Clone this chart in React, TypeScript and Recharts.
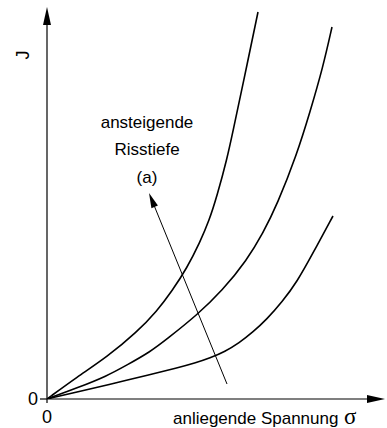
import React from 'react';
import { LineChart, Line, XAxis, YAxis, ReferenceLine, ReferenceDot } from 'recharts';

// sigma (applied stress) and J values, arbitrary units
const curveDeep = [
  { sigma: 0, J: 0 }, { sigma: 30, J: 22 }, { sigma: 60, J: 42 }, { sigma: 90, J: 67 },
  { sigma: 110, J: 88 }, { sigma: 125, J: 108 }, { sigma: 140, J: 131 }, { sigma: 153, J: 157 },
  { sigma: 162, J: 178 }, { sigma: 170, J: 203 }, { sigma: 180, J: 240 }, { sigma: 186, J: 268 },
  { sigma: 196, J: 315 }, { sigma: 211, J: 387 },
];
const curveMedium = [
  { sigma: 0, J: 0 }, { sigma: 30, J: 11 }, { sigma: 60, J: 23 }, { sigma: 80, J: 34 },
  { sigma: 103, J: 47 }, { sigma: 120, J: 60 }, { sigma: 150, J: 84 }, { sigma: 175, J: 108 },
  { sigma: 200, J: 139 }, { sigma: 216, J: 166 }, { sigma: 230, J: 194 }, { sigma: 250, J: 245 },
  { sigma: 263, J: 287 }, { sigma: 276, J: 332 }, { sigma: 285, J: 372 },
];
const curveShallow = [
  { sigma: 0, J: 0 }, { sigma: 30, J: 7 }, { sigma: 60, J: 14 }, { sigma: 103, J: 24.5 },
  { sigma: 130, J: 31 }, { sigma: 148, J: 36 }, { sigma: 163, J: 41 }, { sigma: 178, J: 47.5 },
  { sigma: 192, J: 56 }, { sigma: 206, J: 67 }, { sigma: 220, J: 80 }, { sigma: 235, J: 97 },
  { sigma: 250, J: 117 }, { sigma: 266, J: 146 }, { sigma: 286, J: 183 },
];
const xDomain = [0, 338];
const yDomain = [0, 392];
const xTicks = [0];
const yTicks = [0];
const arrowFrom = { sigma: 180, J: 15 };
const arrowTo = { sigma: 102, J: 206 };
const annotationAnchor = { sigma: 100, J: 243 };
const annotationLines = ['ansteigende', 'Risstiefe', '(a)'];
const xLabel = 'anliegende Spannung';
const xSymbol = 'σ';
const yLabel = 'J';

const FONT = '"Liberation Sans", Arial, Helvetica, sans-serif';

const arrowShape = (len: number, half: number, width: number) => (props: any) => {
  const { x1, y1, x2, y2 } = props;
  if ([x1, y1, x2, y2].some((v) => typeof v !== 'number' || isNaN(v))) return <g />;
  const dx = x2 - x1;
  const dy = y2 - y1;
  const d = Math.hypot(dx, dy) || 1;
  const ux = dx / d;
  const uy = dy / d;
  const bx = x2 - ux * len;
  const by = y2 - uy * len;
  const pts = `${x2},${y2} ${bx - uy * half},${by + ux * half} ${bx + uy * half},${by - ux * half}`;
  return (
    <g>
      <line x1={x1} y1={y1} x2={bx + ux * 2} y2={by + uy * 2} stroke="#000" strokeWidth={width} />
      <polygon points={pts} fill="#000" />
    </g>
  );
};

const annotationShape = (props: any) => {
  const { cx, cy } = props;
  return (
    <text x={cx} y={cy} textAnchor="middle" fontFamily={FONT} fontSize={17} fill="#000">
      {annotationLines.map((t, i) => (
        <tspan key={t} x={cx} y={cy + (i - 1) * 27.5 - 1}>{t}</tspan>
      ))}
    </text>
  );
};

const xLabelContent = (props: any) => {
  const vb = props.viewBox || { x: 47, y: 399 };
  return (
    <g>
      <text x={vb.x + 126} y={vb.y + 25} fontFamily={FONT} fontSize={17} fill="#000">{xLabel}</text>
      <text x={vb.x + 297} y={vb.y + 25} fontFamily='"Liberation Serif", "DejaVu Serif", serif' fontSize={23} fill="#000">{xSymbol}</text>
    </g>
  );
};

const yLabelContent = (props: any) => {
  const vb = props.viewBox || { x: 0, y: 7 };
  const x = vb.x + 29;
  const y = vb.y + 48;
  return (
    <text x={x} y={y} textAnchor="middle" transform={`rotate(-90, ${x}, ${y})`} fontFamily={FONT} fontSize={18} fill="#000">
      {yLabel}
    </text>
  );
};

export default function App() {
  return (
    <div style={{ position: 'absolute', left: 0, top: 0, width: 387, height: 428, background: '#fff' }}>
      <LineChart width={387} height={428} margin={{ top: 7, right: 2, bottom: 0, left: 0 }}>
        <XAxis
          type="number"
          dataKey="sigma"
          domain={xDomain}
          ticks={xTicks}
          allowDataOverflow
          height={29}
          tickSize={4}
          tickMargin={7}
          axisLine={false}
          tickLine={{ stroke: '#000', strokeWidth: 1.2 }}
          tick={{ fill: '#000', fontSize: 18, fontFamily: FONT }}
          label={xLabelContent}
        />
        <YAxis
          type="number"
          dataKey="J"
          domain={yDomain}
          ticks={yTicks}
          allowDataOverflow
          width={47}
          tickSize={7}
          tickMargin={2}
          axisLine={false}
          tickLine={{ stroke: '#000', strokeWidth: 1.2 }}
          tick={{ fill: '#000', fontSize: 18, fontFamily: FONT }}
          label={yLabelContent}
        />
        <ReferenceLine segment={[{ x: 0, y: 0 }, { x: 0, y: yDomain[1] }]} shape={arrowShape(18, 4, 1.2)} ifOverflow="visible" />
        <ReferenceLine segment={[{ x: 0, y: 0 }, { x: xDomain[1], y: 0 }]} shape={arrowShape(18, 4, 1.2)} ifOverflow="visible" />
        <Line data={curveDeep} dataKey="J" type="basis" stroke="#000" strokeWidth={1.6} dot={false} isAnimationActive={false} />
        <Line data={curveMedium} dataKey="J" type="basis" stroke="#000" strokeWidth={1.6} dot={false} isAnimationActive={false} />
        <Line data={curveShallow} dataKey="J" type="basis" stroke="#000" strokeWidth={1.6} dot={false} isAnimationActive={false} />
        <ReferenceLine
          segment={[{ x: arrowFrom.sigma, y: arrowFrom.J }, { x: arrowTo.sigma, y: arrowTo.J }]}
          shape={arrowShape(15, 3.5, 1)}
          ifOverflow="visible"
        />
        <ReferenceDot x={annotationAnchor.sigma} y={annotationAnchor.J} r={0} shape={annotationShape} ifOverflow="visible" />
      </LineChart>
    </div>
  );
}
